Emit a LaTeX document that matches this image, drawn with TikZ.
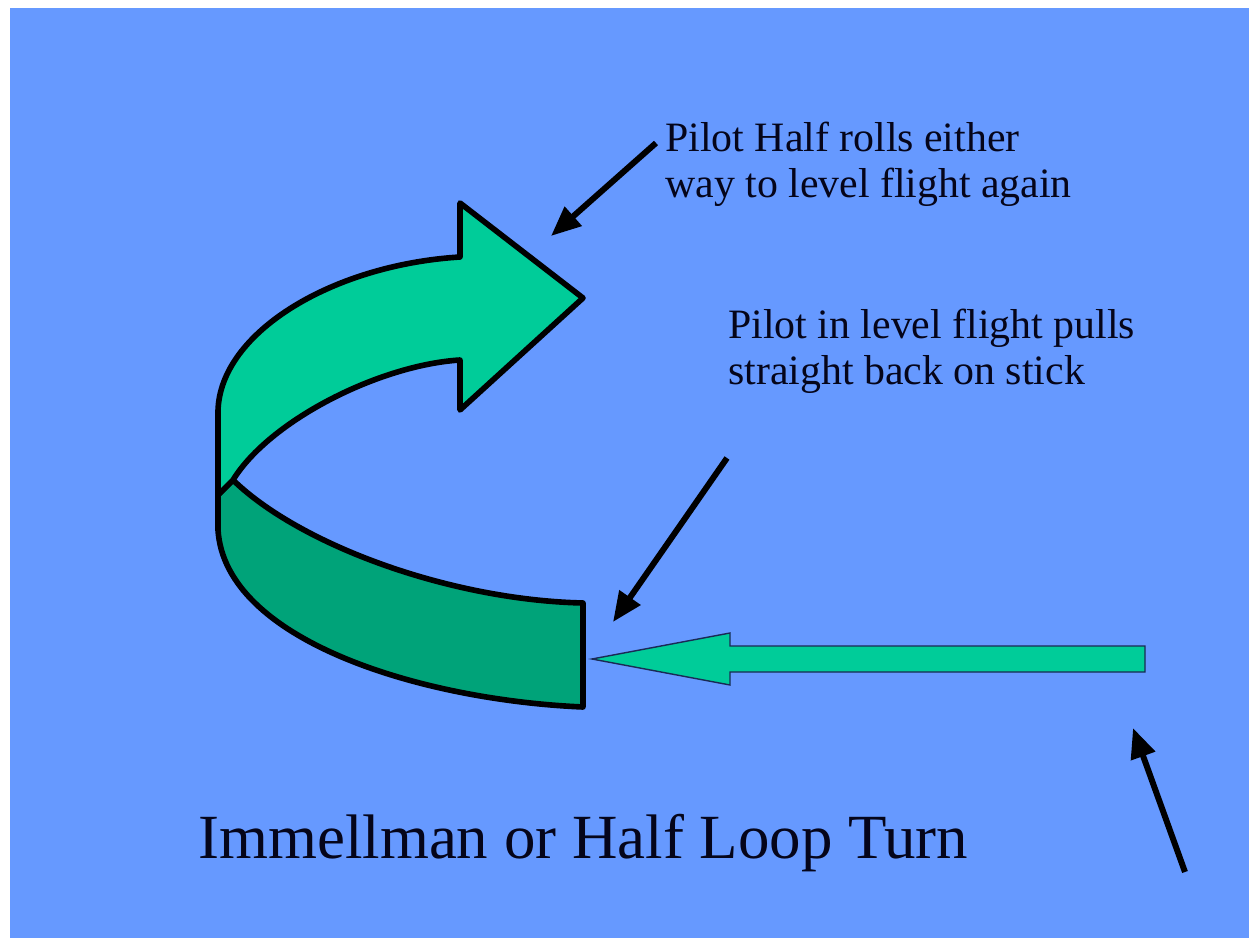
\documentclass[tikz,border=0pt]{standalone}
\usepackage{fontspec}
\setmainfont{Liberation Serif}
\usetikzlibrary{arrows.meta}
\definecolor{bgblue}{HTML}{6699FF}
\definecolor{lightgreen}{HTML}{00CC99}
\definecolor{darkgreen}{HTML}{00A379}
\definecolor{outlinec}{HTML}{1A2A55}
\definecolor{inkc}{HTML}{05051A}
\begin{document}
\begin{tikzpicture}[x=0.02cm,y=-0.02cm,
  band/.style={draw=black, line width=3.2pt, line join=round},
  pointer/.style={draw=black, line width=3.4pt, -{Triangle[length=17pt,width=14pt]}},
  lbl/.style={anchor=base west, inner sep=0, align=left, text=inkc, font=\fontsize{23.8}{26.6}\selectfont},
 ]
\useasboundingbox (0,0) rectangle (1249,939);
\fill[white] (0,0) rectangle (1249,939);
\fill[bgblue] (10,8) rectangle (1249,938);
% lower (dark) band
\filldraw[band, fill=darkgreen] (218,495) -- (233,480) .. controls (300,545) and (450,600) .. (583,603) -- (583,707) .. controls (420,700) and (225,640) .. (218,530) -- cycle;
% upper (light) band with head
\filldraw[band, fill=lightgreen] (218,495) -- (218,415) .. controls (216,335) and (330,265) .. (460,257) -- (460,203) -- (583,298) -- (460,410) -- (460,360) .. controls (380,365) and (270,420) .. (233,480) -- cycle;
% straight green arrow
\filldraw[draw=outlinec, line width=0.8pt, fill=lightgreen] (1145,646) -- (730,646) -- (730,633) -- (592,659) -- (730,685) -- (730,672) -- (1145,672) -- cycle;
% labels (anchored at the baseline of the last line)
\node[lbl] (lab1) at (665,198) {Pilot Half rolls either\\way to level flight again};
\node[lbl] (lab2) at (728,385) {Pilot in level flight pulls\\straight back on stick};
\node[anchor=base west, inner sep=0, text=inkc, font=\fontsize{35.8}{42}\selectfont] (title) at (198,858) {Immellman or Half Loop Turn};
% pointers
\coordinate (p1s) at (656,143); \coordinate (p1e) at (551,236);
\coordinate (p2s) at (727,458); \coordinate (p2e) at (613,622);
\coordinate (p3s) at (1185,872); \coordinate (p3e) at (1133,728);
\draw[pointer] (p1s) -- (p1e);
\draw[pointer] (p2s) -- (p2e);
\draw[pointer] (p3s) -- (p3e);
\end{tikzpicture}
\end{document}
